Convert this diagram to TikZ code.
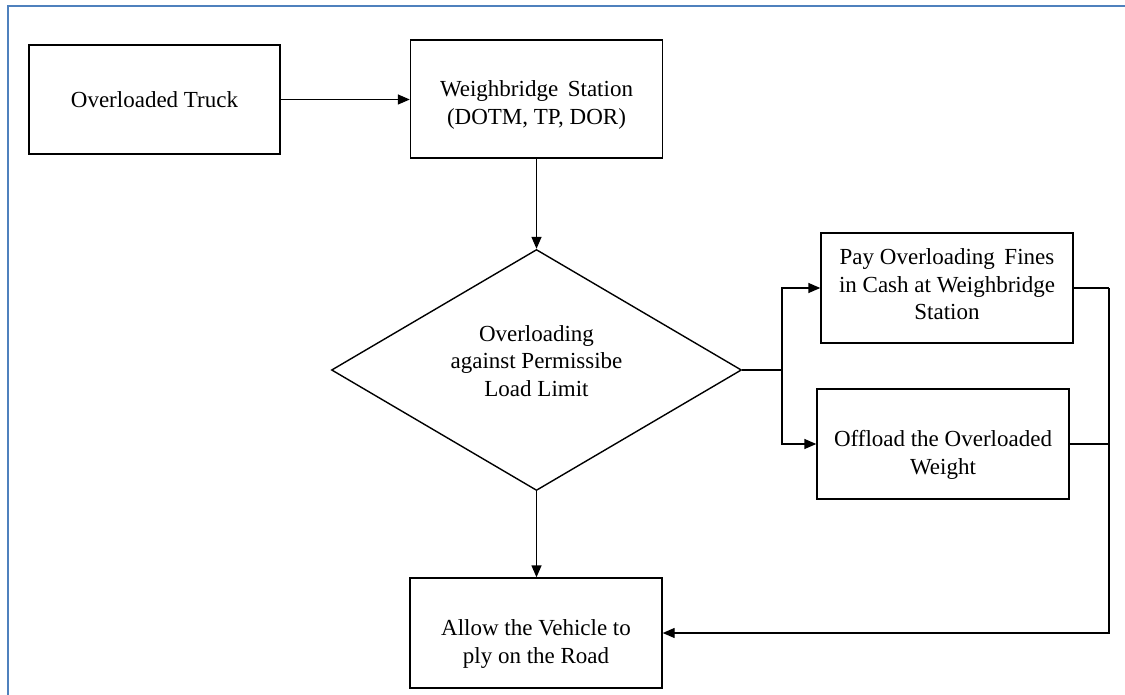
\documentclass[tikz,border=0pt]{standalone}
\usepackage{fontspec}
\setmainfont{Liberation Serif}
\usetikzlibrary{shapes.geometric,arrows.meta}
\definecolor{frameblue}{HTML}{4F81BD}
\newcommand\shtext[2]{\raisebox{#1}[0pt][0pt]{\begin{tabular}{@{}c@{}}#2\end{tabular}}}
\begin{document}
\begin{tikzpicture}[x=1pt,y=-1pt,
  every node/.style={font=\fontsize{23}{27.5}\selectfont, align=center, inner sep=0pt},
  box/.style={draw, line width=1.4pt, rectangle},
  decision/.style={draw, line width=1.4pt, diamond, aspect=1.7},
  conn/.style={line width=1.4pt},
  arr/.style={conn, -{Triangle[length=12pt,width=10pt]}}]
\useasboundingbox (0,0) rectangle (1125,695);
\draw[frameblue, line width=2.2pt] (8,695) -- (8,6) -- (1125,6);

\node[box, minimum width=251, minimum height=109] (truck) at (154.5,99.5) {Overloaded Truck};
\node[box, minimum width=252, minimum height=118] (weigh) at (536.5,99) {\shtext{-12pt}{Weighbridge\, Station\\(DOTM, TP, DOR)}};
\node[decision, minimum width=410, minimum height=241] (dia) at (536.5,370) {\shtext{0.5pt}{Overloading\\against Permissibe\\Load Limit}};
\node[box, minimum width=252, minimum height=110] (pay) at (947,288) {\shtext{-5pt}{Pay Overloading\, Fines\\in Cash at Weighbridge\\Station}};
\node[box, minimum width=252, minimum height=110] (off) at (943,444) {\shtext{-17pt}{Offload the Overloaded\\Weight}};
\node[box, minimum width=252, minimum height=110] (allow) at (536,633) {\shtext{-17pt}{Allow the Vehicle to\\ply on the Road}};

\coordinate (j) at (782,370);
\coordinate (r) at (1109,288);

\draw[arr] (truck.east) -- (truck.east -| weigh.west);
\draw[arr] (weigh.south) -- (dia.north);
\draw[conn] (dia.east) -- (j);
\draw[arr] (j) |- (pay.west);
\draw[arr] (j) |- (off.west);
\draw[conn] (pay.east) -- (r);
\draw[conn] (off.east) -- (r |- off.east);
\draw[arr] (r) |- (allow.east);
\draw[arr] (dia.south) -- (dia.south |- allow.north);
\end{tikzpicture}
\end{document}
